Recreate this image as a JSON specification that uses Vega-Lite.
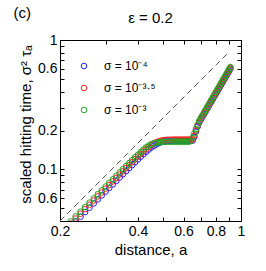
{
  "$schema": "https://vega.github.io/schema/vega-lite/v6.json",
  "width": 181,
  "height": 181,
  "autosize": {"type": "none"},
  "padding": {"left": 60, "top": 40, "right": 25, "bottom": 50},
  "background": "white",
  "title": {"text": "ε = 0.2", "fontSize": 15, "fontWeight": "normal", "font": "Liberation Sans", "color": "black", "anchor": "middle", "offset": 10, "dy": 31},
  "config": {
    "view": {"stroke": null},
    "axis": {"grid": false, "domainColor": "black", "tickColor": "black", "labelColor": "black", "titleColor": "black", "labelFont": "Liberation Sans", "titleFont": "Liberation Sans", "labelFontSize": 14, "titleFontSize": 15, "titleFontWeight": "normal", "tickSize": -4, "domainWidth": 1, "tickWidth": 1, "labelOverlap": false, "labelFlush": false},
    "legend": {"labelFont": "Liberation Sans", "labelFontSize": 12, "labelColor": "black"}
  },
  "datasets": {
    "ref": [{"a": 0.2, "t": 0.04}, {"a": 0.89, "t": 0.7921}],
    "pts": [
      {"a":0.22,"t":0.0363,"s":"σ = 10⁻⁴"},{"a":0.23,"t":0.0397,"s":"σ = 10⁻⁴"},{"a":0.24,"t":0.0432,"s":"σ = 10⁻⁴"},{"a":0.25,"t":0.0469,"s":"σ = 10⁻⁴"},{"a":0.26,"t":0.0507,"s":"σ = 10⁻⁴"},{"a":0.27,"t":0.0547,"s":"σ = 10⁻⁴"},{"a":0.28,"t":0.0588,"s":"σ = 10⁻⁴"},{"a":0.29,"t":0.0631,"s":"σ = 10⁻⁴"},{"a":0.30,"t":0.0675,"s":"σ = 10⁻⁴"},{"a":0.31,"t":0.0721,"s":"σ = 10⁻⁴"},{"a":0.32,"t":0.0768,"s":"σ = 10⁻⁴"},{"a":0.33,"t":0.0817,"s":"σ = 10⁻⁴"},{"a":0.34,"t":0.0867,"s":"σ = 10⁻⁴"},{"a":0.35,"t":0.0919,"s":"σ = 10⁻⁴"},{"a":0.36,"t":0.0972,"s":"σ = 10⁻⁴"},{"a":0.37,"t":0.1027,"s":"σ = 10⁻⁴"},{"a":0.38,"t":0.1082,"s":"σ = 10⁻⁴"},{"a":0.39,"t":0.1139,"s":"σ = 10⁻⁴"},{"a":0.40,"t":0.1197,"s":"σ = 10⁻⁴"},{"a":0.41,"t":0.1255,"s":"σ = 10⁻⁴"},{"a":0.42,"t":0.1313,"s":"σ = 10⁻⁴"},{"a":0.43,"t":0.1370,"s":"σ = 10⁻⁴"},{"a":0.44,"t":0.1425,"s":"σ = 10⁻⁴"},{"a":0.45,"t":0.1475,"s":"σ = 10⁻⁴"},{"a":0.46,"t":0.1520,"s":"σ = 10⁻⁴"},{"a":0.47,"t":0.1560,"s":"σ = 10⁻⁴"},{"a":0.48,"t":0.1595,"s":"σ = 10⁻⁴"},{"a":0.49,"t":0.1620,"s":"σ = 10⁻⁴"},{"a":0.50,"t":0.1638,"s":"σ = 10⁻⁴"},{"a":0.51,"t":0.1650,"s":"σ = 10⁻⁴"},{"a":0.52,"t":0.1658,"s":"σ = 10⁻⁴"},{"a":0.53,"t":0.1662,"s":"σ = 10⁻⁴"},{"a":0.54,"t":0.1665,"s":"σ = 10⁻⁴"},{"a":0.55,"t":0.1666,"s":"σ = 10⁻⁴"},{"a":0.56,"t":0.1667,"s":"σ = 10⁻⁴"},{"a":0.57,"t":0.1667,"s":"σ = 10⁻⁴"},{"a":0.58,"t":0.1668,"s":"σ = 10⁻⁴"},{"a":0.59,"t":0.1668,"s":"σ = 10⁻⁴"},{"a":0.60,"t":0.1668,"s":"σ = 10⁻⁴"},{"a":0.61,"t":0.1669,"s":"σ = 10⁻⁴"},{"a":0.62,"t":0.1669,"s":"σ = 10⁻⁴"},{"a":0.63,"t":0.1669,"s":"σ = 10⁻⁴"},{"a":0.64,"t":0.1670,"s":"σ = 10⁻⁴"},{"a":0.65,"t":0.1670,"s":"σ = 10⁻⁴"},{"a":0.66,"t":0.178,"s":"σ = 10⁻⁴"},{"a":0.67,"t":0.196,"s":"σ = 10⁻⁴"},{"a":0.68,"t":0.214,"s":"σ = 10⁻⁴"},{"a":0.69,"t":0.230,"s":"σ = 10⁻⁴"},{"a":0.70,"t":0.243,"s":"σ = 10⁻⁴"},{"a":0.71,"t":0.2546,"s":"σ = 10⁻⁴"},{"a":0.72,"t":0.2672,"s":"σ = 10⁻⁴"},{"a":0.73,"t":0.2802,"s":"σ = 10⁻⁴"},{"a":0.74,"t":0.2937,"s":"σ = 10⁻⁴"},{"a":0.75,"t":0.3077,"s":"σ = 10⁻⁴"},{"a":0.76,"t":0.3220,"s":"σ = 10⁻⁴"},{"a":0.77,"t":0.3369,"s":"σ = 10⁻⁴"},{"a":0.78,"t":0.3522,"s":"σ = 10⁻⁴"},{"a":0.79,"t":0.3681,"s":"σ = 10⁻⁴"},{"a":0.80,"t":0.3844,"s":"σ = 10⁻⁴"},{"a":0.81,"t":0.4013,"s":"σ = 10⁻⁴"},{"a":0.82,"t":0.4187,"s":"σ = 10⁻⁴"},{"a":0.83,"t":0.4365,"s":"σ = 10⁻⁴"},{"a":0.84,"t":0.4548,"s":"σ = 10⁻⁴"},{"a":0.85,"t":0.4738,"s":"σ = 10⁻⁴"},{"a":0.86,"t":0.4933,"s":"σ = 10⁻⁴"},{"a":0.87,"t":0.5134,"s":"σ = 10⁻⁴"},{"a":0.88,"t":0.5341,"s":"σ = 10⁻⁴"},{"a":0.89,"t":0.5553,"s":"σ = 10⁻⁴"},{"a":0.90,"t":0.5772,"s":"σ = 10⁻⁴"},{"a":0.91,"t":0.5995,"s":"σ = 10⁻⁴"},
      {"a":0.22,"t":0.0382,"s":"σ = 10⁻³·⁵"},{"a":0.23,"t":0.0418,"s":"σ = 10⁻³·⁵"},{"a":0.24,"t":0.0455,"s":"σ = 10⁻³·⁵"},{"a":0.25,"t":0.0494,"s":"σ = 10⁻³·⁵"},{"a":0.26,"t":0.0534,"s":"σ = 10⁻³·⁵"},{"a":0.27,"t":0.0576,"s":"σ = 10⁻³·⁵"},{"a":0.28,"t":0.0619,"s":"σ = 10⁻³·⁵"},{"a":0.29,"t":0.0664,"s":"σ = 10⁻³·⁵"},{"a":0.30,"t":0.0711,"s":"σ = 10⁻³·⁵"},{"a":0.31,"t":0.0759,"s":"σ = 10⁻³·⁵"},{"a":0.32,"t":0.0809,"s":"σ = 10⁻³·⁵"},{"a":0.33,"t":0.0860,"s":"σ = 10⁻³·⁵"},{"a":0.34,"t":0.0913,"s":"σ = 10⁻³·⁵"},{"a":0.35,"t":0.0968,"s":"σ = 10⁻³·⁵"},{"a":0.36,"t":0.1024,"s":"σ = 10⁻³·⁵"},{"a":0.37,"t":0.1081,"s":"σ = 10⁻³·⁵"},{"a":0.38,"t":0.1140,"s":"σ = 10⁻³·⁵"},{"a":0.39,"t":0.1200,"s":"σ = 10⁻³·⁵"},{"a":0.40,"t":0.1260,"s":"σ = 10⁻³·⁵"},{"a":0.41,"t":0.1320,"s":"σ = 10⁻³·⁵"},{"a":0.42,"t":0.1380,"s":"σ = 10⁻³·⁵"},{"a":0.43,"t":0.1435,"s":"σ = 10⁻³·⁵"},{"a":0.44,"t":0.1490,"s":"σ = 10⁻³·⁵"},{"a":0.45,"t":0.1540,"s":"σ = 10⁻³·⁵"},{"a":0.46,"t":0.1585,"s":"σ = 10⁻³·⁵"},{"a":0.47,"t":0.1620,"s":"σ = 10⁻³·⁵"},{"a":0.48,"t":0.1648,"s":"σ = 10⁻³·⁵"},{"a":0.49,"t":0.1668,"s":"σ = 10⁻³·⁵"},{"a":0.50,"t":0.1682,"s":"σ = 10⁻³·⁵"},{"a":0.51,"t":0.1690,"s":"σ = 10⁻³·⁵"},{"a":0.52,"t":0.1694,"s":"σ = 10⁻³·⁵"},{"a":0.53,"t":0.1697,"s":"σ = 10⁻³·⁵"},{"a":0.54,"t":0.1698,"s":"σ = 10⁻³·⁵"},{"a":0.55,"t":0.1699,"s":"σ = 10⁻³·⁵"},{"a":0.56,"t":0.1700,"s":"σ = 10⁻³·⁵"},{"a":0.57,"t":0.1700,"s":"σ = 10⁻³·⁵"},{"a":0.58,"t":0.1700,"s":"σ = 10⁻³·⁵"},{"a":0.59,"t":0.1700,"s":"σ = 10⁻³·⁵"},{"a":0.60,"t":0.1700,"s":"σ = 10⁻³·⁵"},{"a":0.61,"t":0.1700,"s":"σ = 10⁻³·⁵"},{"a":0.62,"t":0.1700,"s":"σ = 10⁻³·⁵"},{"a":0.63,"t":0.1700,"s":"σ = 10⁻³·⁵"},{"a":0.64,"t":0.1701,"s":"σ = 10⁻³·⁵"},{"a":0.65,"t":0.1705,"s":"σ = 10⁻³·⁵"},{"a":0.66,"t":0.182,"s":"σ = 10⁻³·⁵"},{"a":0.67,"t":0.200,"s":"σ = 10⁻³·⁵"},{"a":0.68,"t":0.218,"s":"σ = 10⁻³·⁵"},{"a":0.69,"t":0.234,"s":"σ = 10⁻³·⁵"},{"a":0.70,"t":0.247,"s":"σ = 10⁻³·⁵"},{"a":0.71,"t":0.2586,"s":"σ = 10⁻³·⁵"},{"a":0.72,"t":0.2714,"s":"σ = 10⁻³·⁵"},{"a":0.73,"t":0.2846,"s":"σ = 10⁻³·⁵"},{"a":0.74,"t":0.2983,"s":"σ = 10⁻³·⁵"},{"a":0.75,"t":0.3124,"s":"σ = 10⁻³·⁵"},{"a":0.76,"t":0.3270,"s":"σ = 10⁻³·⁵"},{"a":0.77,"t":0.3421,"s":"σ = 10⁻³·⁵"},{"a":0.78,"t":0.3577,"s":"σ = 10⁻³·⁵"},{"a":0.79,"t":0.3738,"s":"σ = 10⁻³·⁵"},{"a":0.80,"t":0.3904,"s":"σ = 10⁻³·⁵"},{"a":0.81,"t":0.4075,"s":"σ = 10⁻³·⁵"},{"a":0.82,"t":0.4251,"s":"σ = 10⁻³·⁵"},{"a":0.83,"t":0.4433,"s":"σ = 10⁻³·⁵"},{"a":0.84,"t":0.4619,"s":"σ = 10⁻³·⁵"},{"a":0.85,"t":0.4812,"s":"σ = 10⁻³·⁵"},{"a":0.86,"t":0.5010,"s":"σ = 10⁻³·⁵"},{"a":0.87,"t":0.5214,"s":"σ = 10⁻³·⁵"},{"a":0.88,"t":0.5423,"s":"σ = 10⁻³·⁵"},{"a":0.89,"t":0.5639,"s":"σ = 10⁻³·⁵"},{"a":0.90,"t":0.5861,"s":"σ = 10⁻³·⁵"},{"a":0.91,"t":0.6087,"s":"σ = 10⁻³·⁵"},
      {"a":0.22,"t":0.0397,"s":"σ = 10⁻³"},{"a":0.23,"t":0.0434,"s":"σ = 10⁻³"},{"a":0.24,"t":0.0472,"s":"σ = 10⁻³"},{"a":0.25,"t":0.0513,"s":"σ = 10⁻³"},{"a":0.26,"t":0.0554,"s":"σ = 10⁻³"},{"a":0.27,"t":0.0598,"s":"σ = 10⁻³"},{"a":0.28,"t":0.0643,"s":"σ = 10⁻³"},{"a":0.29,"t":0.0690,"s":"σ = 10⁻³"},{"a":0.30,"t":0.0738,"s":"σ = 10⁻³"},{"a":0.31,"t":0.0788,"s":"σ = 10⁻³"},{"a":0.32,"t":0.0840,"s":"σ = 10⁻³"},{"a":0.33,"t":0.0893,"s":"σ = 10⁻³"},{"a":0.34,"t":0.0948,"s":"σ = 10⁻³"},{"a":0.35,"t":0.1005,"s":"σ = 10⁻³"},{"a":0.36,"t":0.1062,"s":"σ = 10⁻³"},{"a":0.37,"t":0.1121,"s":"σ = 10⁻³"},{"a":0.38,"t":0.1181,"s":"σ = 10⁻³"},{"a":0.39,"t":0.1242,"s":"σ = 10⁻³"},{"a":0.40,"t":0.1300,"s":"σ = 10⁻³"},{"a":0.41,"t":0.1365,"s":"σ = 10⁻³"},{"a":0.42,"t":0.1425,"s":"σ = 10⁻³"},{"a":0.43,"t":0.1480,"s":"σ = 10⁻³"},{"a":0.44,"t":0.1530,"s":"σ = 10⁻³"},{"a":0.45,"t":0.1565,"s":"σ = 10⁻³"},{"a":0.46,"t":0.1590,"s":"σ = 10⁻³"},{"a":0.47,"t":0.1608,"s":"σ = 10⁻³"},{"a":0.48,"t":0.1620,"s":"σ = 10⁻³"},{"a":0.49,"t":0.1628,"s":"σ = 10⁻³"},{"a":0.50,"t":0.1633,"s":"σ = 10⁻³"},{"a":0.51,"t":0.1636,"s":"σ = 10⁻³"},{"a":0.52,"t":0.1638,"s":"σ = 10⁻³"},{"a":0.53,"t":0.1639,"s":"σ = 10⁻³"},{"a":0.54,"t":0.1640,"s":"σ = 10⁻³"},{"a":0.55,"t":0.1640,"s":"σ = 10⁻³"},{"a":0.56,"t":0.1640,"s":"σ = 10⁻³"},{"a":0.57,"t":0.1640,"s":"σ = 10⁻³"},{"a":0.58,"t":0.1640,"s":"σ = 10⁻³"},{"a":0.59,"t":0.1640,"s":"σ = 10⁻³"},{"a":0.60,"t":0.1640,"s":"σ = 10⁻³"},{"a":0.61,"t":0.1640,"s":"σ = 10⁻³"},{"a":0.62,"t":0.1640,"s":"σ = 10⁻³"},{"a":0.63,"t":0.1642,"s":"σ = 10⁻³"},{"a":0.64,"t":0.1660,"s":"σ = 10⁻³"},{"a":0.65,"t":0.176,"s":"σ = 10⁻³"},{"a":0.66,"t":0.190,"s":"σ = 10⁻³"},{"a":0.67,"t":0.205,"s":"σ = 10⁻³"},{"a":0.68,"t":0.222,"s":"σ = 10⁻³"},{"a":0.69,"t":0.237,"s":"σ = 10⁻³"},{"a":0.70,"t":0.250,"s":"σ = 10⁻³"},{"a":0.71,"t":0.2625,"s":"σ = 10⁻³"},{"a":0.72,"t":0.2755,"s":"σ = 10⁻³"},{"a":0.73,"t":0.2889,"s":"σ = 10⁻³"},{"a":0.74,"t":0.3028,"s":"σ = 10⁻³"},{"a":0.75,"t":0.3172,"s":"σ = 10⁻³"},{"a":0.76,"t":0.3320,"s":"σ = 10⁻³"},{"a":0.77,"t":0.3473,"s":"σ = 10⁻³"},{"a":0.78,"t":0.3631,"s":"σ = 10⁻³"},{"a":0.79,"t":0.3795,"s":"σ = 10⁻³"},{"a":0.80,"t":0.3963,"s":"σ = 10⁻³"},{"a":0.81,"t":0.4137,"s":"σ = 10⁻³"},{"a":0.82,"t":0.4316,"s":"σ = 10⁻³"},{"a":0.83,"t":0.4500,"s":"σ = 10⁻³"},{"a":0.84,"t":0.4689,"s":"σ = 10⁻³"},{"a":0.85,"t":0.4885,"s":"σ = 10⁻³"},{"a":0.86,"t":0.5086,"s":"σ = 10⁻³"},{"a":0.87,"t":0.5293,"s":"σ = 10⁻³"},{"a":0.88,"t":0.5506,"s":"σ = 10⁻³"},{"a":0.89,"t":0.5725,"s":"σ = 10⁻³"},{"a":0.90,"t":0.5950,"s":"σ = 10⁻³"},{"a":0.91,"t":0.6180,"s":"σ = 10⁻³"}
    ]
  },
  "layer": [
    {
      "data": {"name": "ref"},
      "mark": {"type": "line", "strokeDash": [6, 4], "color": "#555555", "strokeWidth": 1},
      "encoding": {
        "x": {"field": "a", "type": "quantitative", "scale": {"type": "log", "domain": [0.2, 1], "nice": false},
              "axis": {"orient": "bottom", "title": "distance, a", "values": [0.2,0.3,0.4,0.5,0.6,0.7,0.8,0.9,1], "labelExpr": "datum.value == 0.2 ? '0.2' : datum.value == 0.4 ? '0.4' : datum.value == 0.6 ? '0.6' : datum.value == 0.8 ? '0.8' : datum.value == 1 ? '1' : ''", "labelPadding": 7, "titlePadding": 4}},
        "y": {"field": "t", "type": "quantitative", "scale": {"type": "log", "domain": [0.04, 1], "nice": false},
              "axis": {"orient": "left", "title": "scaled hitting time, σ² τₐ", "values": [0.05,0.06,0.07,0.08,0.09,0.1,0.2,0.3,0.4,0.5,0.6,0.7,0.8,0.9,1], "labelExpr": "datum.value == 1 ? '1' : datum.value == 0.6 ? '0.6' : datum.value == 0.2 ? '0.2' : datum.value == 0.1 ? '0.1' : datum.value == 0.06 ? '0.6' : ''", "labelPadding": 7, "titlePadding": 4, "titleY": 84}}
      }
    },
    {
      "data": {"name": "pts"},
      "mark": {"type": "point", "filled": false, "size": 32, "strokeWidth": 1, "clip": true, "opacity": 1},
      "encoding": {
        "x": {"field": "a", "type": "quantitative", "scale": {"type": "log", "domain": [0.2, 1], "nice": false},
              "axis": {"orient": "top", "labels": false, "values": [0.2,0.3,0.4,0.5,0.6,0.7,0.8,0.9,1], "title": "(c)", "titleX": -47, "titleY": -20, "titleAlign": "left", "titleFontSize": 15}},
        "y": {"field": "t", "type": "quantitative", "scale": {"type": "log", "domain": [0.04, 1], "nice": false},
              "axis": {"orient": "right", "labels": false, "title": null, "values": [0.05,0.06,0.07,0.08,0.09,0.1,0.2,0.3,0.4,0.5,0.6,0.7,0.8,0.9,1]}},
        "color": {"field": "s", "type": "nominal",
                  "scale": {"domain": ["σ = 10⁻⁴", "σ = 10⁻³·⁵", "σ = 10⁻³"], "range": ["#1f1fff", "#ff1f1f", "#1faa1f"]},
                  "legend": {"title": null, "orient": "none", "legendX": 18, "legendY": 20, "symbolType": "circle", "symbolSize": 32, "symbolStrokeWidth": 1, "labelOffset": 14, "rowPadding": 10, "padding": 0}}
      }
    }
  ],
  "resolve": {"axis": {"x": "independent", "y": "independent"}}
}
